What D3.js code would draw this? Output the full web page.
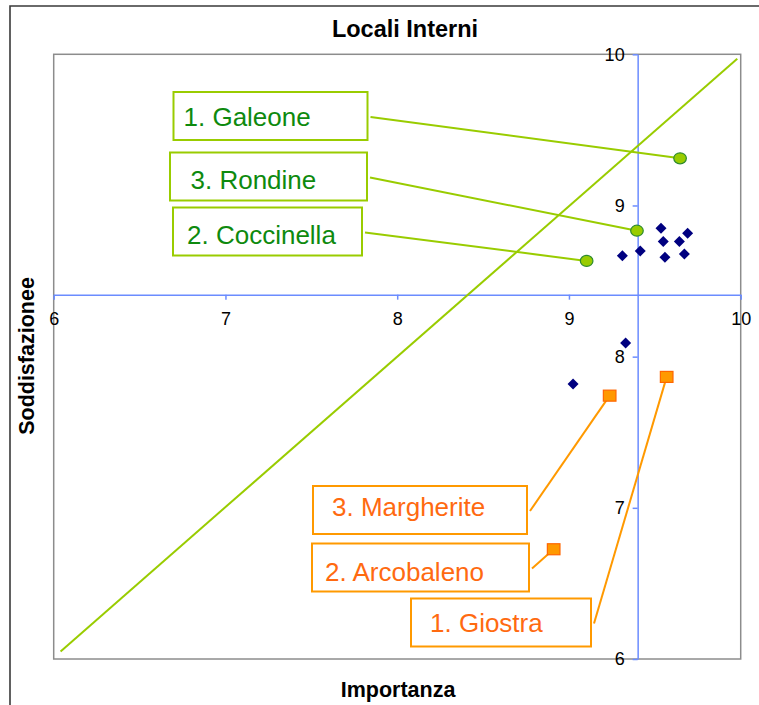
<!DOCTYPE html>
<html><head><meta charset="utf-8">
<script src="https://cdn.jsdelivr.net/npm/d3@7"></script>
<style>
html,body{margin:0;padding:0;background:#fff;}
svg{display:block;font-family:"Liberation Sans",Arial,sans-serif;}
</style></head>
<body>
<svg id="chart" width="759" height="705"></svg>
<script>
// ---- data ----
const title = "Locali Interni";
const xTitle = "Importanza";
const yTitle = "Soddisfazionee";
const xTicks = [6, 7, 8, 9, 10];
const yTicks = [6, 7, 8, 9, 10];
const xDomain = [6, 10];
const yDomain = [6, 10];
// axes cross at the averages
const crossX = 9.40;
const crossY = 8.41;
// reference line (importanza = soddisfazione)
const diagX = [6.04, 9.98];
const diagY = [6.05, 9.97];
// other items
const otherX = [9.536, 9.691, 9.549, 9.643, 9.311, 9.415, 9.559, 9.672, 9.330, 9.024];
const otherY = [8.849, 8.816, 8.761, 8.761, 8.668, 8.699, 8.657, 8.679, 8.091, 7.819];
// best items
const bestNames = ["1. Galeone", "3. Rondine", "2. Coccinella"];
const bestX = [9.647, 9.396, 9.103];
const bestY = [9.312, 8.833, 8.633];
// worst items
const worstNames = ["1. Giostra", "3. Margherite", "2. Arcobaleno"];
const worstX = [9.569, 9.237, 8.911];
const worstY = [7.866, 7.742, 6.726];

// ---- layout (label boxes in pixels) ----
const bestBoxes = [
  {x: 173.5, y: 92, w: 194, h: 48, tx: 183.5, ty: 126},
  {x: 170, y: 152.5, w: 197, h: 48, tx: 190.5, ty: 189},
  {x: 173, y: 207.5, w: 189, h: 48, tx: 187, ty: 243.5}
];
const worstBoxes = [
  {x: 411, y: 598.5, w: 180, h: 48, tx: 430, ty: 631.5},
  {x: 313, y: 486, w: 214, h: 48, tx: 332, ty: 516},
  {x: 312, y: 543.5, w: 217, h: 48, tx: 325, ty: 581}
];

const svg = d3.select("#chart");
const L = 53.7, R = 740.7, T = 54.3, B = 659;
const x = d3.scaleLinear().domain(xDomain).range([L, R]);
const y = d3.scaleLinear().domain(yDomain).range([B, T]);

// outer chart border (left and top visible)
svg.append("path").attr("d", `M10,705 L10,6 L759,6`)
  .attr("fill", "none").attr("stroke", "#3a3a3a").attr("stroke-width", 1.6);

// plot area border
svg.append("rect").attr("x", L).attr("y", T).attr("width", R - L).attr("height", B - T)
  .attr("fill", "#fff").attr("stroke", "#8c8c8c").attr("stroke-width", 1.5);

// titles
svg.append("text").attr("x", 405).attr("y", 37).attr("text-anchor", "middle")
  .attr("font-size", 23.5).attr("font-weight", "bold").attr("fill", "#000").text(title);
svg.append("text").attr("x", 398).attr("y", 697).attr("text-anchor", "middle")
  .attr("font-size", 21.5).attr("font-weight", "bold").attr("fill", "#000").text(xTitle);
svg.append("text").attr("transform", "translate(34,356) rotate(-90)").attr("text-anchor", "middle")
  .attr("font-size", 21.5).attr("font-weight", "bold").attr("fill", "#000").text(yTitle);

const axisColor = "#6b8cff";
// x axis crossing at crossY
const gx = svg.append("g").attr("transform", `translate(0,${y(crossY)})`)
  .call(d3.axisBottom(x).tickValues(xTicks).tickFormat(d3.format("d")).tickSize(5).tickPadding(13).tickSizeOuter(0));
// y axis crossing at crossX
const gy = svg.append("g").attr("transform", `translate(${x(crossX)},0)`)
  .call(d3.axisLeft(y).tickValues(yTicks).tickFormat(d3.format("d")).tickSize(5).tickPadding(8).tickSizeOuter(0));
[gx, gy].forEach(g => {
  g.attr("font-size", 18).attr("font-family", "'Liberation Sans',Arial,sans-serif");
  g.select(".domain").attr("stroke", axisColor).attr("stroke-width", 1.5);
  g.selectAll(".tick line").attr("stroke", axisColor).attr("stroke-width", 1.5);
  g.selectAll(".tick text").attr("fill", "#000").attr("font-size", 18);
});

// diagonal reference line
svg.append("line")
  .attr("x1", x(diagX[0])).attr("y1", y(diagY[0]))
  .attr("x2", x(diagX[1])).attr("y2", y(diagY[1]))
  .attr("stroke", "#99cc00").attr("stroke-width", 2);

// connectors
const greenStroke = "#99cc00", orangeStroke = "#ff9900";
bestNames.forEach((n, i) => {
  const b = bestBoxes[i];
  svg.append("line").attr("x1", b.x + b.w + 3).attr("y1", b.y + b.h / 2 + 1)
    .attr("x2", x(bestX[i])).attr("y2", y(bestY[i]))
    .attr("stroke", greenStroke).attr("stroke-width", 2);
});
worstNames.forEach((n, i) => {
  const b = worstBoxes[i];
  svg.append("line").attr("x1", b.x + b.w + 3).attr("y1", b.y + b.h / 2 + 1)
    .attr("x2", x(worstX[i])).attr("y2", y(worstY[i]))
    .attr("stroke", orangeStroke).attr("stroke-width", 2);
});

// label boxes
bestNames.forEach((n, i) => {
  const b = bestBoxes[i];
  svg.append("rect").attr("x", b.x).attr("y", b.y).attr("width", b.w).attr("height", b.h)
    .attr("fill", "#fff").attr("stroke", greenStroke).attr("stroke-width", 2);
  svg.append("text").attr("x", b.tx).attr("y", b.ty).attr("font-size", 26)
    .attr("fill", "#0e8a0e").text(n);
});
worstNames.forEach((n, i) => {
  const b = worstBoxes[i];
  svg.append("rect").attr("x", b.x).attr("y", b.y).attr("width", b.w).attr("height", b.h)
    .attr("fill", "#fff").attr("stroke", orangeStroke).attr("stroke-width", 2);
  svg.append("text").attr("x", b.tx).attr("y", b.ty).attr("font-size", 26)
    .attr("fill", "#ff6a10").text(n);
});

// other points (diamonds)
const dm = 5.5;
svg.append("g").selectAll("path").data(d3.range(otherX.length)).join("path")
  .attr("d", i => {
    const cx = x(otherX[i]), cy = y(otherY[i]);
    return `M${cx},${cy - dm}L${cx + dm},${cy}L${cx},${cy + dm}L${cx - dm},${cy}Z`;
  })
  .attr("fill", "#000080");

// best points (ellipses)
svg.append("g").selectAll("ellipse").data(d3.range(bestX.length)).join("ellipse")
  .attr("cx", i => x(bestX[i])).attr("cy", i => y(bestY[i]))
  .attr("rx", 6.3).attr("ry", 5.5)
  .attr("fill", "#99cc00").attr("stroke", "#2e8b2e").attr("stroke-width", 1.2);

// worst points (squares)
svg.append("g").selectAll("rect").data(d3.range(worstX.length)).join("rect")
  .attr("x", i => x(worstX[i]) - 6.3).attr("y", i => y(worstY[i]) - 5.5)
  .attr("width", 12.6).attr("height", 11)
  .attr("fill", "#ff9900").attr("stroke", "#ff6600").attr("stroke-width", 1.2);
</script>
</body></html>
